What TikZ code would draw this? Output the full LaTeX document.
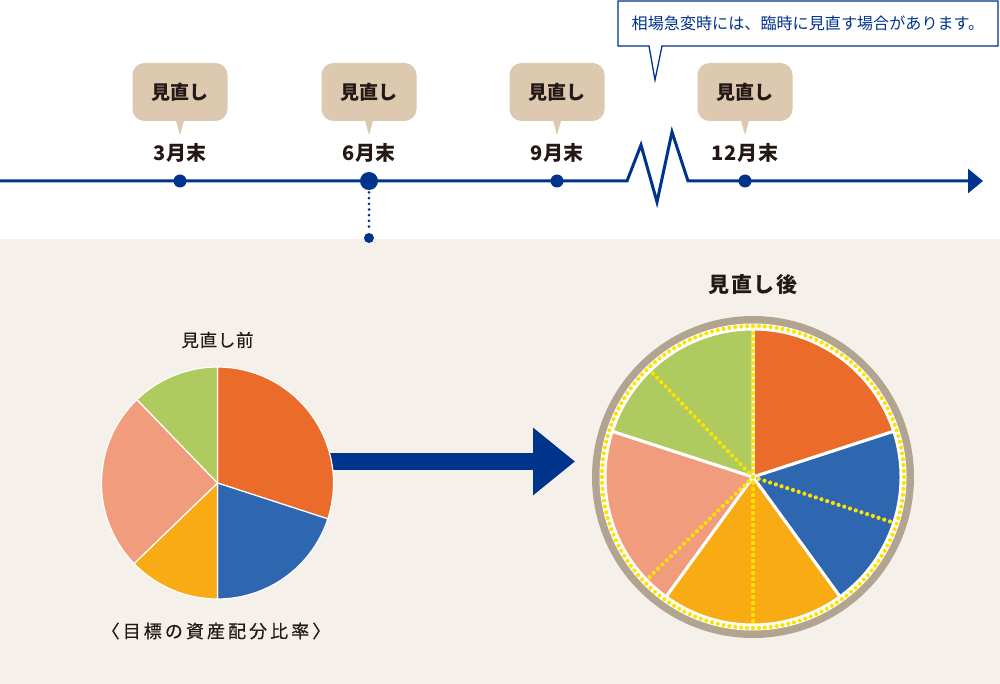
\documentclass[tikz,border=0pt]{standalone}
\usepackage{fontspec}
\setmainfont{Noto Sans CJK JP}
\newfontfamily\medfont[FakeBold=0.35]{Noto Sans CJK JP}
\usepackage{xcolor}
\usepackage{tikz}
\usetikzlibrary{arrows.meta}
\usetikzlibrary{calc}
\usetikzlibrary{positioning}
\definecolor{planNavy}{RGB}{0,52,140}
\definecolor{pieOrange}{RGB}{234,107,42}
\definecolor{pieBlue}{RGB}{46,103,175}
\definecolor{pieYellow}{RGB}{248,171,18}
\definecolor{pieSalmon}{RGB}{241,156,124}
\definecolor{pieGreen}{RGB}{175,202,94}
\definecolor{bgBeige}{RGB}{245,241,234}
\definecolor{bubbleTan}{RGB}{220,201,175}
\definecolor{ringTaupe}{RGB}{177,165,145}
\definecolor{dotYellow}{RGB}{255,226,0}
\definecolor{textDark}{RGB}{35,24,21}
\tikzstyle{timeline} = [line width=3pt,planNavy,-{Triangle[length=15pt,width=24pt]}]
\tikzstyle{tick} = [circle,fill=planNavy,inner sep=0pt,minimum size=13pt]
\tikzstyle{bubble} = [fill=bubbleTan,rounded corners=12pt,minimum width=95pt,minimum height=58pt,text=textDark,font=\bfseries\fontsize{19}{19}\selectfont]
\tikzstyle{month} = [text=textDark,font=\bfseries\fontsize{20}{20}\selectfont\addfontfeature{LetterSpace=4}]
\tikzstyle{ydot} = [circle,fill=dotYellow,inner sep=0pt,minimum size=4.2pt]

\begin{document}
\begin{tikzpicture}[x=1pt,y=1pt]

    \useasboundingbox (0,0) rectangle (1000,-684); % Fixes the page size...
    \fill[bgBeige] (0,-239) rectangle (1000,-684);

    % timeline with the break
    \coordinate (tlStart) at (0,-181);
    \coordinate (zigA) at (627,-181);
    \coordinate (zigB) at (641,-145);
    \coordinate (zigC) at (657,-202);
    \coordinate (zigD) at (672,-132);
    \coordinate (zigE) at (688,-181);
    \coordinate (tlEnd) at (983,-181);
    \draw[timeline] (tlStart) -- (zigA) -- (zigB) -- (zigC) -- (zigD) -- (zigE) -- (tlEnd);

    \foreach \x/\m/\n in {180/3月末/q1,369/6月末/q2,557/9月末/q3,745/12月末/q4}{% One tick per quarter
      \node[tick] (\n) at (\x,-181) {};
      \node[month] (\n label) at (\x,-153) {\m};
      \node[bubble] (\n bubble) at (\x,-92) {見直し};
      \fill[bubbleTan] ($(\n bubble.south)+(-4,0.5)$) -- ($(\n bubble.south)+(0,-14)$)
        -- ($(\n bubble.south)+(4,0.5)$) -- cycle;
    }
    \node[tick,minimum size=18pt] at (q2) {};

    % dotted drop from 6月末
    \node[circle,fill=planNavy,inner sep=0pt,minimum size=10pt] (drop) at (369,-238) {};
    \foreach \s in {0.1,0.2,...,0.85}{% dots between the two ends
      \node[circle,fill=planNavy,inner sep=0pt,minimum size=3pt] at ($(q2)!\s!(drop)$) {};
    }

    % callout
    \draw[planNavy,fill=white,line width=1.3pt] (618,-1) -- (998,-1) -- (998,-46)
        -- (662,-46) -- (655,-80) -- (649,-46) -- (618,-46) -- cycle;
    \node[text=planNavy,font=\fontsize{16.1}{16.1}\selectfont] (note) at (808,-23)
        {相場急変時には、臨時に見直す場合があります。};

    % big arrow
    \coordinate (bigFrom) at (325,-461.5);
    \coordinate (bigTo) at (575,-461.5);
    \draw[planNavy,line width=17pt,-{Triangle[length=42pt,width=65pt]}] (bigFrom) -- (bigTo);

    % pie before
    \coordinate (Lc) at (217.5,-483);
    \foreach \a/\b/\c in {90/-18/pieOrange,-18/-90/pieBlue,-90/-136/pieYellow,
                          -136/-226/pieSalmon,-226/-270/pieGreen}{%
      \filldraw[fill=\c,draw=white,line width=1.2pt,line join=round]
        (Lc) -- ++(\a:116) arc[start angle=\a,end angle=\b,radius=116] -- cycle;
    }
    \node[text=textDark,font=\medfont\fontsize{17.5}{17.5}\selectfont\addfontfeature{LetterSpace=4}] (before) at (217.5,-340) {見直し前};
    \node[text=textDark,font=\medfont\fontsize{18}{18}\selectfont\addfontfeature{LetterSpace=17}] (target) at (216,-631) {〈目標の資産配分比率〉};

    % pie after
    \coordinate (Rc) at (753,-477);
    \fill[ringTaupe] (Rc) circle (161);
    \fill[white] (Rc) circle (153.5);
    \foreach \a/\b/\c in {90/18/pieOrange,18/-54/pieBlue,-54/-126/pieYellow,
                          -126/-198/pieSalmon,-198/-270/pieGreen}{%
      \filldraw[fill=\c,draw=white,line width=3pt,line join=round]
        (Rc) -- ++(\a:148) arc[start angle=\a,end angle=\b,radius=148] -- cycle;
    }
    \foreach \t in {0,2.25,...,358}{% dotted rim
      \node[ydot] at ($(Rc)+(\t:151)$) {};
    }
    \foreach \a in {90,-18,-90,-136,134}{% old borders
      \foreach \r in {6,12,...,144}{
        \node[ydot] at ($(Rc)+(\a:\r)$) {};
      }
    }
    \node[ydot] at (Rc) {};
    \node[text=textDark,font=\bfseries\fontsize{21}{21}\selectfont\addfontfeature{LetterSpace=8}] (after) at (753,-285) {見直し後};

\end{tikzpicture}
\end{document}
